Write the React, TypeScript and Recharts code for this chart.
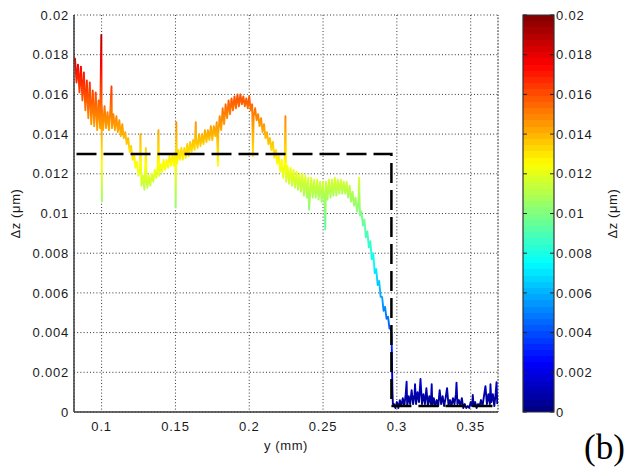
import React from 'react';
import { ComposedChart, Line, XAxis, YAxis, CartesianGrid, ReferenceLine, BarChart, Bar } from 'recharts';

// ---- axis ticks ----
const xTicks = [0.1, 0.15, 0.2, 0.25, 0.3, 0.35];
const zTicks = [0, 0.002, 0.004, 0.006, 0.008, 0.01, 0.012, 0.014, 0.016, 0.018, 0.02];
const xDomain: [number, number] = [0.0813, 0.3685];
const zDomain: [number, number] = [0, 0.02];

// ---- measured profile, [y (mm), Δz (µm)] ----
const leftDescent: [number, number][] = [
  [0.0814, 0.0177], [0.082, 0.0178], [0.083, 0.0166], [0.084, 0.0175], [0.085, 0.0161],
  [0.086, 0.0174], [0.087, 0.0157], [0.088, 0.0171], [0.089, 0.0152], [0.09, 0.0167],
  [0.091, 0.0148], [0.092, 0.0166], [0.093, 0.0145], [0.094, 0.0162], [0.095, 0.0144],
  [0.096, 0.0161], [0.097, 0.0142], [0.098, 0.0157], [0.099, 0.0143], [0.0998, 0.019],
  [0.1002, 0.0106], [0.1, 0.0155], [0.101, 0.0142], [0.102, 0.0154], [0.103, 0.0143],
  [0.104, 0.0151], [0.105, 0.0142], [0.106, 0.0153], [0.1067, 0.0164], [0.107, 0.0143],
  [0.108, 0.015], [0.109, 0.0142], [0.11, 0.0149], [0.111, 0.0141], [0.112, 0.0147],
  [0.113, 0.0139], [0.114, 0.0145], [0.115, 0.0138], [0.116, 0.0141], [0.117, 0.0135],
  [0.118, 0.0138], [0.119, 0.0131], [0.12, 0.0134], [0.121, 0.0127], [0.122, 0.013],
  [0.123, 0.0123], [0.124, 0.0126], [0.125, 0.0119],
];

const valleyAndPeak: [number, number][] = [
  [0.126, 0.0122], [0.1263, 0.014], [0.127, 0.0114], [0.128, 0.0119], [0.129, 0.0112],
  [0.13, 0.0133], [0.1305, 0.0116], [0.131, 0.0113], [0.132, 0.0119], [0.133, 0.0114],
  [0.134, 0.012], [0.135, 0.0116], [0.136, 0.0122], [0.137, 0.0118], [0.138, 0.0124],
  [0.1385, 0.0142], [0.139, 0.0119], [0.14, 0.0125], [0.141, 0.0121], [0.142, 0.0127],
  [0.143, 0.0122], [0.144, 0.0127], [0.145, 0.0123], [0.146, 0.0129], [0.147, 0.0124],
  [0.148, 0.013], [0.149, 0.0124], [0.15, 0.0131], [0.1502, 0.0103], [0.1506, 0.0146],
  [0.151, 0.0125], [0.152, 0.0132], [0.153, 0.0127], [0.154, 0.0133], [0.155, 0.0127],
  [0.156, 0.0133], [0.157, 0.0128], [0.158, 0.0135], [0.159, 0.0129], [0.16, 0.0136],
  [0.161, 0.0131], [0.162, 0.0137], [0.163, 0.0132], [0.1638, 0.0146], [0.164, 0.0138],
  [0.165, 0.0133], [0.166, 0.014], [0.167, 0.0134], [0.168, 0.014], [0.169, 0.0135],
  [0.17, 0.0142], [0.171, 0.0136], [0.172, 0.0142], [0.173, 0.0137], [0.174, 0.0144],
  [0.175, 0.0137], [0.176, 0.0144], [0.177, 0.0139], [0.178, 0.0146], [0.1788, 0.0124],
  [0.179, 0.014], [0.18, 0.0149], [0.181, 0.0142], [0.182, 0.0153], [0.183, 0.0145],
  [0.184, 0.0155], [0.185, 0.0148], [0.186, 0.0157], [0.187, 0.015], [0.188, 0.0158],
  [0.189, 0.0152], [0.19, 0.0159], [0.191, 0.0153], [0.192, 0.016], [0.193, 0.0154],
  [0.194, 0.016], [0.195, 0.0155], [0.196, 0.0159], [0.197, 0.0154], [0.198, 0.0158],
  [0.199, 0.0153], [0.2, 0.0159], [0.201, 0.0152], [0.202, 0.0155], [0.2025, 0.0129],
  [0.203, 0.0149], [0.204, 0.0153], [0.205, 0.0147], [0.206, 0.015], [0.207, 0.0144],
  [0.208, 0.0148], [0.209, 0.0141], [0.21, 0.0145], [0.211, 0.0138], [0.212, 0.0141],
  [0.213, 0.0135], [0.214, 0.0138], [0.215, 0.0132], [0.216, 0.0136], [0.217, 0.0128],
  [0.218, 0.0132], [0.219, 0.0125], [0.22, 0.0129], [0.221, 0.0121], [0.222, 0.0127],
  [0.223, 0.0118],
];

const shoulder: [number, number][] = [
  [0.224, 0.0125], [0.2245, 0.0149], [0.225, 0.0116], [0.226, 0.0124], [0.227, 0.0115],
  [0.228, 0.0123], [0.229, 0.0114], [0.23, 0.0122], [0.231, 0.0113], [0.232, 0.0121],
  [0.233, 0.0112], [0.234, 0.012], [0.235, 0.0111], [0.236, 0.012], [0.237, 0.0109],
  [0.238, 0.0119], [0.239, 0.0108], [0.24, 0.0118], [0.2405, 0.0102], [0.241, 0.0107],
  [0.242, 0.0118], [0.243, 0.0108], [0.244, 0.0117], [0.245, 0.0108], [0.246, 0.0117],
  [0.247, 0.0107], [0.248, 0.0116], [0.249, 0.0106], [0.25, 0.0116], [0.251, 0.0105],
  [0.2515, 0.0092], [0.252, 0.0116], [0.253, 0.0107], [0.254, 0.0117], [0.255, 0.0108],
  [0.256, 0.0117], [0.257, 0.0109], [0.258, 0.0118], [0.259, 0.0109], [0.26, 0.0117],
  [0.261, 0.011], [0.262, 0.0117], [0.263, 0.011], [0.264, 0.0116], [0.265, 0.011],
  [0.266, 0.0116], [0.267, 0.0108], [0.268, 0.0114], [0.269, 0.0106], [0.27, 0.0111],
  [0.271, 0.0104], [0.272, 0.0108], [0.273, 0.0101],
];

const edgeDrop: [number, number][] = [
  [0.274, 0.0106], [0.2744, 0.0118], [0.275, 0.0099], [0.276, 0.0101], [0.277, 0.0094],
  [0.278, 0.0097], [0.279, 0.0088], [0.28, 0.0091], [0.281, 0.0083], [0.282, 0.0086],
  [0.283, 0.0077], [0.284, 0.008], [0.285, 0.007], [0.286, 0.0072], [0.287, 0.0064],
  [0.288, 0.0066], [0.289, 0.0058], [0.29, 0.0058], [0.291, 0.0051], [0.292, 0.0053],
  [0.293, 0.0047], [0.294, 0.0048], [0.295, 0.0042], [0.296, 0.0042], [0.2964, 0.0039],
  [0.2966, 0.003], [0.2968, 0.0019], [0.297, 0.001], [0.2973, 0.0004],
];

const noiseFloor: [number, number][] = [
  [0.298, 0.0004], [0.299, 0.0002], [0.3, 0.0005], [0.301, 0.0002], [0.302, 0.0006],
  [0.303, 0.0003], [0.304, 0.0007], [0.305, 0.0003], [0.306, 0.0009], [0.3066, 0.00153],
  [0.307, 0.0003], [0.308, 0.0008], [0.309, 0.0004], [0.31, 0.0011], [0.311, 0.0004],
  [0.312, 0.0009], [0.3123, 0.0014], [0.313, 0.0004], [0.314, 0.001], [0.315, 0.0005],
  [0.316, 0.00166], [0.317, 0.0004], [0.318, 0.0009], [0.319, 0.0004], [0.32, 0.0012],
  [0.321, 0.0003], [0.322, 0.0008], [0.323, 0.0004], [0.3236, 0.0014], [0.324, 0.0003],
  [0.325, 0.0007], [0.326, 0.0003], [0.327, 0.0006], [0.328, 0.0003], [0.329, 0.0011],
  [0.33, 0.0004], [0.331, 0.0008], [0.332, 0.0003], [0.333, 0.0007], [0.334, 0.0012],
  [0.335, 0.0003], [0.336, 0.0006], [0.337, 0.0003], [0.338, 0.0007], [0.339, 0.0004],
  [0.34, 0.0009], [0.3404, 0.00148], [0.341, 0.0004], [0.342, 0.0006], [0.343, 0.0003],
  [0.344, 0.0007], [0.345, 0.0002], [0.346, 0.0004], [0.347, 0.0002], [0.348, 0.0003],
  [0.349, 0.0002], [0.35, 0.0005], [0.351, 0.0003], [0.3514, 0.00086], [0.352, 0.0003],
  [0.353, 0.0005], [0.354, 0.0002], [0.355, 0.0004], [0.356, 0.0003], [0.357, 0.0006],
  [0.358, 0.0003], [0.359, 0.0008], [0.36, 0.0013], [0.361, 0.0004], [0.362, 0.0009],
  [0.363, 0.0004], [0.3634, 0.0014], [0.364, 0.0005], [0.365, 0.0009], [0.366, 0.0003],
  [0.367, 0.001], [0.3675, 0.0015], [0.368, 0.0004],
];

// ---- dashed reference step ----
const thresholdLevel = 0.013;
const edgePosition = 0.2963;
const floorLevel = 0.0003;
const stepStart = 0.083;
const stepEnd = 0.365;

const profileData = [...leftDescent, ...valleyAndPeak, ...shoulder, ...edgeDrop, ...noiseFloor].map(
  ([x, z]) => ({ x, z })
);
const stepData = [
  { x: stepStart, z: thresholdLevel },
  { x: edgePosition, z: thresholdLevel },
  { x: edgePosition, z: floorLevel },
  { x: stepEnd, z: floorLevel },
];
const colorbarData = [{ name: 'cb', v: zDomain[1] }];

// ---- jet colormap ----
function jet(t: number): string {
  const c = (v: number) => Math.max(0, Math.min(1, v));
  const r = c(1.5 - Math.abs(4 * t - 3));
  const g = c(1.5 - Math.abs(4 * t - 2));
  const b = c(1.5 - Math.abs(4 * t - 1));
  return `rgb(${Math.round(r * 255)},${Math.round(g * 255)},${Math.round(b * 255)})`;
}
// offsets ascending from top (high value) to bottom (low value)
const smoothStops = Array.from({ length: 33 }, (_, i) => i / 32);
const bandCount = 64;
const bands = Array.from({ length: bandCount }, (_, i) => i);

const fmt = (v: number) => String(Number(v.toFixed(3)));
const FONT = "'Liberation Sans', Arial, sans-serif";
const tickStyle = { fontFamily: FONT, fontSize: 13, fill: '#1a1a1a', letterSpacing: 0.8 };
const labelStyle = { fontFamily: FONT, fontSize: 13, fill: '#1a1a1a', letterSpacing: 0.6 };
const AXIS_COLOR = '#3a3a3a';
const GRID_DASH = '1 2.2';

const ColorbarTick = (props: any) => {
  const { x, y, payload } = props;
  return (
    <g>
      <line x1={x - 2} x2={x - 6} y1={y} y2={y} stroke="#222" strokeWidth={1} />
      <line x1={x - 33} x2={x - 29} y1={y} y2={y} stroke="#222" strokeWidth={1} />
      <text x={x} y={y} dy="0.355em" textAnchor="start" style={tickStyle as any}>
        {fmt(payload.value)}
      </text>
    </g>
  );
};

export default function App() {
  return (
    <div style={{ position: 'absolute', left: 0, top: 0, width: 628, height: 469, background: '#fff' }}>
      <div style={{ position: 'absolute', left: 0, top: 0 }}>
        <ComposedChart width={628} height={469} margin={{ top: 15, right: 130, bottom: 12, left: 0 }}>
          <defs>
            <linearGradient id="jetLine" gradientUnits="userSpaceOnUse" x1="0" y1="15" x2="0" y2="412">
              {smoothStops.map((o) => (
                <stop key={o} offset={o} stopColor={jet(1 - o)} />
              ))}
            </linearGradient>
          </defs>
          <CartesianGrid stroke="#333" strokeDasharray={GRID_DASH} strokeWidth={1} />
          <XAxis
            type="number"
            dataKey="x"
            domain={xDomain}
            allowDataOverflow
            ticks={xTicks}
            tickFormatter={fmt}
            tick={tickStyle}
            tickLine={false}
            tickSize={6}
            tickMargin={4}
            height={45}
            axisLine={{ stroke: AXIS_COLOR, strokeWidth: 1.5 }}
            label={{ value: 'y (mm)', position: 'insideBottom', offset: 7, style: labelStyle }}
          />
          <YAxis
            type="number"
            domain={zDomain}
            allowDataOverflow
            ticks={zTicks}
            tickFormatter={fmt}
            tick={tickStyle}
            tickLine={false}
            tickSize={3}
            tickMargin={2}
            width={74}
            axisLine={{ stroke: AXIS_COLOR, strokeWidth: 1.5 }}
            label={{ value: 'Δz (μm)', angle: -90, position: 'insideLeft', offset: 15, textAnchor: 'middle', style: { ...labelStyle, textAnchor: 'middle' } } as any}
          />
          <ReferenceLine x={xDomain[1]} stroke="#333" strokeDasharray={GRID_DASH} />
          <Line
            data={profileData}
            dataKey="z"
            type="linear"
            stroke="url(#jetLine)"
            strokeWidth={1.9}
            strokeLinejoin="round"
            dot={false}
            activeDot={false}
            isAnimationActive={false}
          />
          <Line
            data={stepData}
            dataKey="z"
            type="linear"
            stroke="#000"
            strokeWidth={2.5}
            strokeDasharray="20 7"
            dot={false}
            activeDot={false}
            isAnimationActive={false}
          />
        </ComposedChart>
      </div>
      <div style={{ position: 'absolute', left: 0, top: 0 }}>
        <BarChart
          width={628}
          height={469}
          data={colorbarData}
          margin={{ top: 15, right: 0, bottom: 57, left: 523 }}
          barCategoryGap={0}
        >
          <defs>
            <linearGradient id="jetBar" x1="0" y1="1" x2="0" y2="0">
              {bands.map((i) => [
                <stop key={`a${i}`} offset={i / bandCount} stopColor={jet((i + 0.5) / bandCount)} />,
                <stop key={`b${i}`} offset={(i + 1) / bandCount} stopColor={jet((i + 0.5) / bandCount)} />,
              ])}
            </linearGradient>
          </defs>
          <XAxis dataKey="name" hide />
          <YAxis
            orientation="right"
            type="number"
            domain={zDomain}
            ticks={zTicks}
            width={74}
            tickLine={false}
            tickSize={0}
            tickMargin={2}
            axisLine={false}
            tick={<ColorbarTick />}
            label={{ value: 'Δz (μm)', angle: -90, position: 'insideRight', offset: 16, textAnchor: 'middle', style: { ...labelStyle, textAnchor: 'middle' } } as any}
          />
          <Bar dataKey="v" fill="url(#jetBar)" stroke="#333" strokeWidth={1.2} isAnimationActive={false} />
        </BarChart>
      </div>
      <div
        style={{
          position: 'absolute',
          left: 584,
          top: 430,
          fontFamily: "'Liberation Serif', 'Times New Roman', serif",
          fontSize: 35,
          lineHeight: '35px',
          color: '#000',
        }}
      >
        (b)
      </div>
    </div>
  );
}
